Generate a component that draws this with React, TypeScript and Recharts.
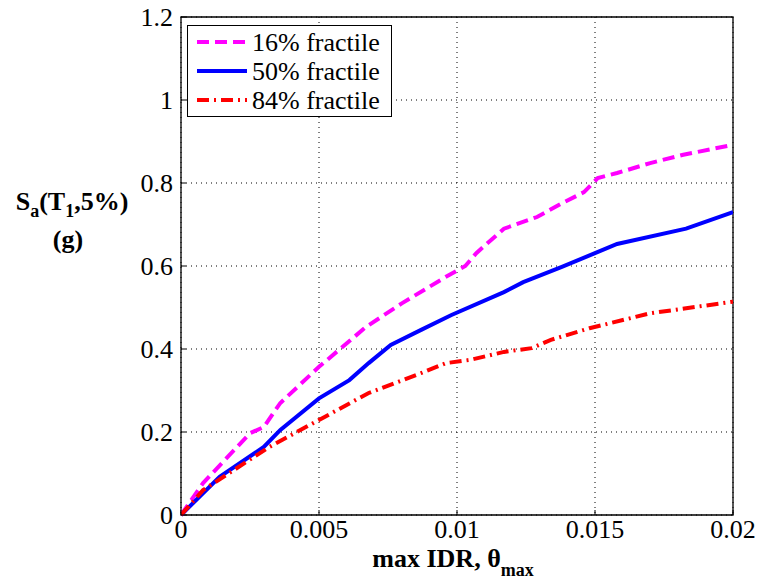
import React from 'react';
import { LineChart, Line, XAxis, YAxis, CartesianGrid, ReferenceArea } from 'recharts';

const xTicks = [0, 0.005, 0.01, 0.015, 0.02];
const yTicks = [0, 0.2, 0.4, 0.6, 0.8, 1, 1.2];

const idr16 = [0, 0.0008, 0.0025, 0.003, 0.0036, 0.005, 0.0067, 0.008, 0.0096, 0.0103, 0.0107, 0.0117, 0.0129, 0.0138, 0.0146, 0.0151, 0.0158, 0.017, 0.0182, 0.02];
const sa16 = [0, 0.077, 0.197, 0.212, 0.27, 0.357, 0.453, 0.51, 0.574, 0.6, 0.631, 0.69, 0.718, 0.751, 0.778, 0.812, 0.824, 0.848, 0.868, 0.892];

const idr50 = [0, 0.0014, 0.003, 0.0036, 0.005, 0.0061, 0.0068, 0.0076, 0.0087, 0.0098, 0.0117, 0.0124, 0.0138, 0.015, 0.0158, 0.0183, 0.02];
const sa50 = [0, 0.092, 0.164, 0.205, 0.281, 0.325, 0.366, 0.41, 0.446, 0.482, 0.537, 0.561, 0.598, 0.631, 0.653, 0.69, 0.73];

const idr84 = [0, 0.0008, 0.0023, 0.0032, 0.005, 0.0068, 0.0087, 0.0096, 0.0105, 0.0117, 0.0127, 0.0134, 0.0148, 0.017, 0.02];
const sa84 = [0, 0.06, 0.125, 0.164, 0.229, 0.294, 0.342, 0.366, 0.374, 0.393, 0.402, 0.422, 0.45, 0.486, 0.514];

const seriesNames = ['16% fractile', '50% fractile', '84% fractile'];

const toData = (xs: number[], ys: number[]) => xs.map((x, i) => ({ idr: x, sa: ys[i] }));

const d16 = toData(idr16, sa16);
const d50 = toData(idr50, sa50);
const d84 = toData(idr84, sa84);

const FONT = 'Liberation Serif';
const X_MARGIN = 5;
const Y_MARGIN = 8;
const INNER_TICK = 5;

const styles = [
  { color: '#ff00ff', dash: '12 6' },
  { color: '#0000ff', dash: undefined as string | undefined },
  { color: '#ff0000', dash: '12 5 2 5' },
];

const XTick = (props: any) => {
  const { x, y, payload } = props;
  const ay = y - X_MARGIN;
  return (
    <g>
      <line x1={x} x2={x} y1={ay} y2={ay - INNER_TICK} stroke="#000" strokeWidth={1} />
      <text x={x} y={y} dy="0.71em" textAnchor="middle" fontFamily={FONT} fontSize={26} fill="#000">{String(payload.value)}</text>
    </g>
  );
};

const YTick = (props: any) => {
  const { x, y, payload } = props;
  const ax = x + Y_MARGIN;
  return (
    <g>
      <line x1={ax} x2={ax + INNER_TICK} y1={y} y2={y} stroke="#000" strokeWidth={1} />
      <text x={x} y={y} dy="0.355em" textAnchor="end" fontFamily={FONT} fontSize={26} fill="#000">{String(payload.value)}</text>
    </g>
  );
};

const LegendBox = () => (
  <div style={{ position: 'absolute', left: 187, top: 25, width: 205, height: 92, border: '1.3px solid #000', background: '#fff', boxSizing: 'border-box' }}>
    <svg width={203} height={90} style={{ display: 'block' }}>
      {seriesNames.map((n, i) => (
        <g key={n}>
          <line x1={9} x2={59} y1={16 + i * 29} y2={16 + i * 29} stroke={styles[i].color} strokeWidth={4} strokeDasharray={styles[i].dash} />
          <text x={64} y={25 + i * 29} fontFamily={FONT} fontSize={26} fill="#000">{n}</text>
        </g>
      ))}
    </svg>
  </div>
);

const YLabel = (props: any) => {
  const vb = props.viewBox || { x: 0, y: 17, width: 181, height: 498 };
  const cy = vb.y + vb.height / 2;
  const cx = 72;
  return (
    <g fontFamily={FONT} fontWeight="bold" fontSize={26} fill="#000">
      <text x={cx} y={cy - 56} textAnchor="middle">
        S<tspan fontSize={18} dy={7}>a</tspan><tspan dy={-7}>(T</tspan><tspan fontSize={18} dy={7}>1</tspan><tspan dy={-7}>,5%)</tspan>
      </text>
      <text x={cx - 4} y={cy - 18} textAnchor="middle">(g)</text>
    </g>
  );
};

const XLabel = (props: any) => {
  const vb = props.viewBox || { x: 181, y: 515, width: 552, height: 67 };
  const cx = vb.x + vb.width / 2 - 4;
  return (
    <text x={cx} y={vb.y + 52} textAnchor="middle" fontFamily={FONT} fontWeight="bold" fontSize={26} fill="#000">
      max IDR, θ<tspan fontSize={18} dy={9}>max</tspan>
    </text>
  );
};

export default function App() {
  return (
    <div style={{ position: 'absolute', left: 0, top: 0, width: 758, height: 582, background: '#fff' }}>
      <LineChart width={758} height={582} margin={{ top: 17, right: 25, left: 0, bottom: 0 }}>
        <CartesianGrid stroke="#000" strokeDasharray="1 4" strokeWidth={1} />
        <XAxis
          type="number"
          dataKey="idr"
          domain={[0, 0.02]}
          ticks={xTicks}
          allowDataOverflow
          height={67}
          tickLine={false}
          axisLine={false}
          tickSize={0}
          tickMargin={X_MARGIN}
          tick={<XTick />}
          label={<XLabel />}
        />
        <XAxis
          xAxisId="top"
          orientation="top"
          type="number"
          dataKey="idr"
          domain={[0, 0.02]}
          ticks={xTicks}
          allowDataOverflow
          height={0}
          mirror
          tick={false}
          tickLine={{ stroke: '#000' }}
          tickSize={INNER_TICK}
          axisLine={false}
        />
        <YAxis
          type="number"
          domain={[0, 1.2]}
          ticks={yTicks}
          width={181}
          tickLine={false}
          axisLine={false}
          tickSize={0}
          tickMargin={Y_MARGIN}
          tick={<YTick />}
          label={<YLabel />}
        />
        <YAxis
          yAxisId="right"
          orientation="right"
          type="number"
          domain={[0, 1.2]}
          ticks={yTicks}
          width={0}
          mirror
          tick={false}
          tickLine={{ stroke: '#000' }}
          tickSize={INNER_TICK}
          axisLine={false}
        />
        <ReferenceArea x1={0} x2={0.02} y1={0} y2={1.2} fill="none" stroke="#000" strokeWidth={1.3} ifOverflow="visible" />
        <Line data={d16} dataKey="sa" name={seriesNames[0]} stroke={styles[0].color} strokeWidth={4} strokeDasharray={styles[0].dash} dot={false} type="linear" isAnimationActive={false} />
        <Line data={d50} dataKey="sa" name={seriesNames[1]} stroke={styles[1].color} strokeWidth={4} dot={false} type="linear" isAnimationActive={false} />
        <Line data={d84} dataKey="sa" name={seriesNames[2]} stroke={styles[2].color} strokeWidth={4} strokeDasharray={styles[2].dash} dot={false} type="linear" isAnimationActive={false} />
      </LineChart>
      <LegendBox />
    </div>
  );
}
